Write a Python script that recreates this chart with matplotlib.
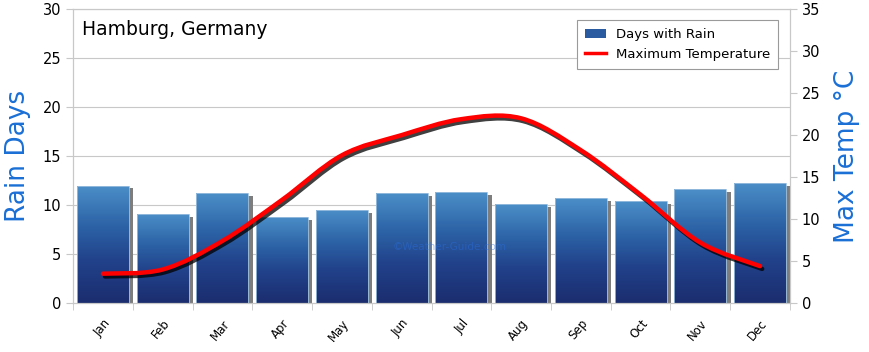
import matplotlib
matplotlib.use("Agg")
import matplotlib.pyplot as plt
import numpy as np
from matplotlib.patches import Rectangle, PathPatch
from matplotlib.path import Path
from matplotlib.lines import Line2D
from matplotlib.colors import LinearSegmentedColormap
import matplotlib.patheffects as pe

months = ["Jan", "Feb", "Mar", "Apr", "May", "Jun",
          "Jul", "Aug", "Sep", "Oct", "Nov", "Dec"]
rain_days = [12.0, 9.1, 11.2, 8.8, 9.5, 11.2, 11.3, 10.1, 10.7, 10.4, 11.6, 12.3]
max_temp = [3.5, 4.0, 7.4, 12.3, 17.6, 20.0, 21.9, 22.0, 18.2, 12.9, 7.2, 4.4]

blue_label = "#1a6fd6"
grid_grey = "#c8c8c8"

fig = plt.figure(figsize=(8.7, 3.52), dpi=100)
ax = fig.add_axes([0.084, 0.139, 0.824, 0.835])
ax2 = ax.twinx()

x = np.arange(len(months))
width = 0.87

ax.set_xlim(-0.5, len(months) - 0.5)
ax.set_ylim(0, 30)
ax2.set_ylim(0, 35)

# horizontal grid
for v in range(5, 31, 5):
    ax.axhline(v, color=grid_grey, lw=0.8, zorder=0)

grad = LinearSegmentedColormap.from_list(
    "bars", [(0, "#1b2d6e"), (0.35, "#21418a"), (0.65, "#2c62a6"), (1, "#4b8fc8")])
gimg = np.linspace(0, 1, 256).reshape(-1, 1)

for xi, h in zip(x, rain_days):
    # drop shadow
    ax.add_patch(Rectangle((xi - width / 2 + 0.07, 0), width, h - 0.3,
                           color="#7d7d7d", zorder=1, lw=0))
    rect = Rectangle((xi - width / 2, 0), width, h, facecolor="none",
                     edgecolor="#9cc0e0", lw=0.6, zorder=3)
    ax.add_patch(rect)
    im = ax.imshow(gimg, cmap=grad, origin="lower", aspect="auto",
                   extent=(xi - width / 2, xi + width / 2, 0, h), zorder=2)
    im.set_clip_path(rect)

ax.set_xlim(-0.5, len(months) - 0.5)
ax.set_ylim(0, 30)

# smooth temperature line (Catmull-Rom through the monthly values)
pts = np.column_stack([x, max_temp]).astype(float)
verts = [pts[0]]
codes = [Path.MOVETO]
for i in range(len(pts) - 1):
    p0 = pts[i - 1] if i > 0 else pts[i]
    p1, p2 = pts[i], pts[i + 1]
    p3 = pts[i + 2] if i + 2 < len(pts) else pts[i + 1]
    verts += [p1 + (p2 - p0) / 6, p2 - (p3 - p1) / 6, p2]
    codes += [Path.CURVE4] * 3
line = PathPatch(Path(verts, codes), facecolor="none", edgecolor="#ff0000",
                 lw=3.2, capstyle="round", zorder=5)
line.set_path_effects([pe.SimpleLineShadow(offset=(1.5, -2), shadow_color="k",
                                           alpha=0.75),
                       pe.Normal()])
ax2.add_patch(line)

ax.text(5.8, 5.7, "\u00a9Weather-Guide.com", color="#2a6fe0", alpha=0.45,
        fontsize=7.5, ha="center", va="center", zorder=4)

ax.text(0.012, 0.93, "Hamburg, Germany", transform=ax.transAxes,
        fontsize=13.5, color="black", va="center", ha="left")

ax.set_yticks(range(0, 31, 5))
ax2.set_yticks(range(0, 36, 5))
ax.set_xticks(x)
ax.set_xticklabels(months, rotation=50, fontsize=8.5, ha="right",
                   rotation_mode="anchor")
ax.set_xticks(np.arange(-0.5, len(months), 1), minor=True)
ax.tick_params(axis="x", which="major", length=0, pad=10)
ax.tick_params(axis="x", which="minor", length=5, color=grid_grey)
ax.tick_params(axis="y", length=5, color=grid_grey, labelsize=10.5)
ax2.tick_params(axis="y", length=5, color=grid_grey, labelsize=10.5)

for a in (ax, ax2):
    for s in a.spines.values():
        s.set_color(grid_grey)

ax.set_ylabel("Rain Days", fontsize=19, color=blue_label, labelpad=8)
ax2.set_ylabel("Max Temp \u00b0C", fontsize=19, color=blue_label, labelpad=10)

handles = [Rectangle((0, 0), 1, 1, facecolor="#2a5aa0", edgecolor="none"),
           Line2D([], [], color="#ff0000", lw=2.5)]
leg = ax2.legend(handles, ["Days with Rain", "Maximum Temperature"],
                 loc="upper right", bbox_to_anchor=(0.993, 0.985),
                 fontsize=9.5, frameon=True, fancybox=False, framealpha=1,
                 edgecolor="#9a9a9a", borderpad=0.6, handlelength=1.6)
leg.get_frame().set_linewidth(0.8)

fig.savefig("out.png", dpi=100)
